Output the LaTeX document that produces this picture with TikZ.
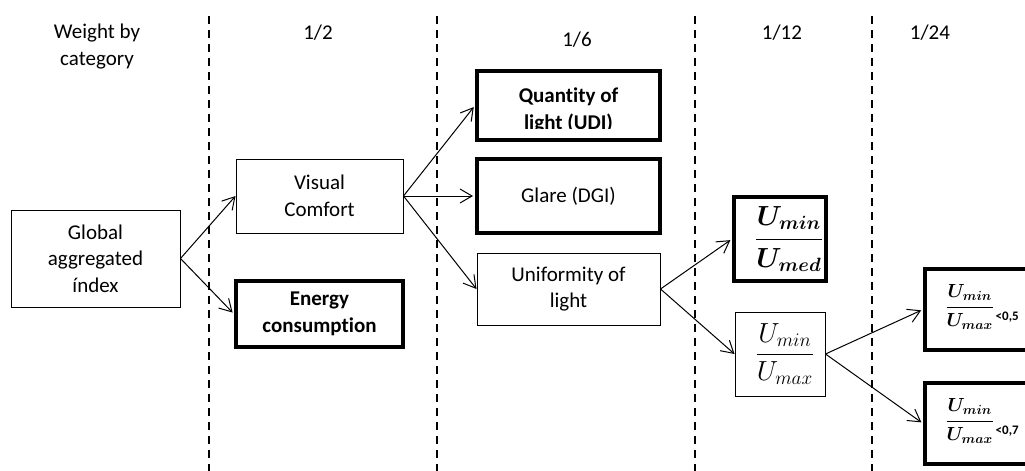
\documentclass[tikz,border=0pt]{standalone}
\usepackage{amsmath}
\usepackage{fontspec}
\setmainfont{Carlito}[Ligatures=CommonOff]
\usetikzlibrary{arrows.meta}

\begin{document}
\begin{tikzpicture}[x=1pt,y=-1pt,
  every node/.style={font=\fontsize{21}{26.5}\selectfont, align=center},
  thinbox/.style={draw, line width=1pt, inner sep=0pt},
  thickbox/.style={draw, line width=4pt, inner sep=0pt},
  link/.style={line width=1pt, -{Straight Barb[length=12pt,width=14pt,line width=1pt]}},
  linkthick/.style={link, shorten >=2pt},
  divider/.style={line width=2pt, dash pattern=on 8pt off 6pt},
  fractext/.style={font=\fontsize{17.28}{20}\selectfont, inner sep=0pt},
  tagtext/.style={font=\fontsize{13}{15}\selectfont\bfseries, anchor=base west, inner sep=0pt}]
\useasboundingbox (0,0) rectangle (1025,471);
\clip (0,0) rectangle (1025,471);

% column dividers
\draw[divider] (209,16) -- (209,471);
\draw[divider] (437,16) -- (437,471);
\draw[divider] (695,16) -- (695,471);
\draw[divider] (872,16) -- (872,471);

% column weights
\node (hdr0) at (97,46.5) {Weight by\\category};
\node (hdr1) at (318,33) {1/2};
\node (hdr2) at (577,40) {1/6};
\node (hdr3) at (782,33) {1/12};
\node (hdr4) at (930,33) {1/24};

% level 0 and 1
\node[thinbox, minimum width=169, minimum height=97] (gai) at (95.5,258.5) {Global\\aggregated\\índex};
\node[thinbox, minimum width=167, minimum height=74] (vis) at (319.5,196) {Visual\\Comfort};
\node[thickbox, minimum width=167, minimum height=66] (ene) at (319.5,314) {\bfseries Energy\\\bfseries consumption};

% level 2
\node[thickbox, minimum width=183, minimum height=69] (qty) at (568.5,105.5) {};
\begin{scope}
  \clip (477,71) rectangle (660,128);
  \node (qtytxt) at (568.5,110.5) {\bfseries Quantity of\\\bfseries light (UDI)};
\end{scope}
\node[thickbox, minimum width=183, minimum height=74] (gla) at (568.5,196) {Glare (DGI)};
\node[thinbox, minimum width=183, minimum height=72] (uni) at (568.5,289) {Uniformity of\\light};

% level 3
\node[thickbox, minimum width=92, minimum height=84] (umed) at (780,239) {};
\node[fractext] (umedtxt) at (789,239) {\scalebox{1.6}{\boldmath$\dfrac{U_{min}}{U_{med}}$}};
\node[thinbox, minimum width=90, minimum height=84] (umax) at (780,354) {};
\node[fractext] (umaxtxt) at (785,354) {\scalebox{1.6}{$\dfrac{U_{min}}{U_{max}}$}};

% level 4
\node[thickbox, minimum width=160, minimum height=81, anchor=north west] (rfive) at (923,267) {};
\node[fractext, anchor=west] (rfivetxt) at (945,307) {\scalebox{1.1}{\boldmath$\dfrac{U_{min}}{U_{max}}$}};
\node[tagtext] (rfivetag) at ([xshift=1pt]rfivetxt.east |- 0,320) {\textless0,5};
\node[thickbox, minimum width=160, minimum height=81, anchor=north west] (rseven) at (923,381) {};
\node[fractext, anchor=west] (rseventxt) at (945,421) {\scalebox{1.1}{\boldmath$\dfrac{U_{min}}{U_{max}}$}};
\node[tagtext] (rseventag) at ([xshift=1pt]rseventxt.east |- 0,434) {\textless0,7};

% connectors
\draw[link] (gai.east) -- (vis.west);
\draw[linkthick] (gai.east) -- (ene.west);
\draw[linkthick] (vis.east) -- (qty.west);
\draw[linkthick] (vis.east) -- (gla.west);
\draw[link] (vis.east) -- (uni.west);
\draw[linkthick] (uni.east) -- (umed.west);
\draw[link] (uni.east) -- (umax.west);
\draw[linkthick] (umax.east) -- (rfive.west);
\draw[linkthick] (umax.east) -- (rseven.west);
\end{tikzpicture}
\end{document}
